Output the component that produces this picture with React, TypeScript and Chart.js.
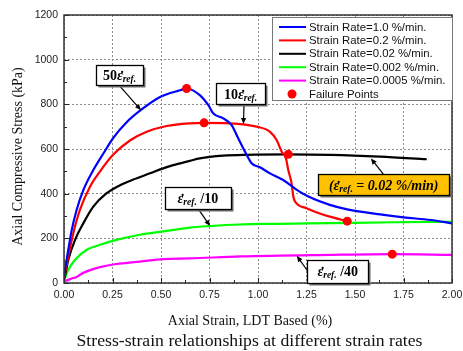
import React, { useEffect, useRef } from "react";
import { Chart, registerables } from "chart.js";

Chart.register(...registerables);

// ---------------- DATA ----------------
const seriesLabels = [
  "Strain Rate=1.0 %/min.",
  "Strain Rate=0.2 %/min.",
  "Strain Rate=0.02 %/min.",
  "Strain Rate=0.002 %/min.",
  "Strain Rate=0.0005 %/min.",
];
const failureLabel = "Failure Points";

// Strain Rate = 1.0 %/min
const strainR1 = [0, 0.005, 0.022, 0.04, 0.065, 0.1, 0.151, 0.203, 0.254, 0.323, 0.4, 0.495, 0.598, 0.632, 0.7, 0.744, 0.77, 0.821, 0.864, 0.898, 0.933, 0.967, 1.01, 1.062, 1.13, 1.2, 1.26, 1.37, 1.46, 1.63, 1.75, 1.89, 2.0];
const stressR1 = [30, 59, 149, 238, 327, 417, 506, 580, 650, 720, 777, 833, 863, 871, 841, 796, 759, 737, 707, 648, 588, 536, 518, 491, 461, 417, 387, 350, 330, 307, 294, 282, 267];

// Strain Rate = 0.2 %/min
const strainR2 = [0, 0.005, 0.022, 0.048, 0.082, 0.134, 0.186, 0.254, 0.34, 0.426, 0.529, 0.649, 0.722, 0.856, 0.993, 1.062, 1.096, 1.122, 1.144, 1.156, 1.173, 1.182, 1.191, 1.25, 1.3, 1.37, 1.46];
const stressR2 = [20, 45, 119, 223, 327, 431, 500, 575, 638, 677, 703, 715, 717, 715, 700, 677, 640, 588, 558, 506, 447, 387, 365, 335, 317, 297, 277];

// Strain Rate = 0.02 %/min
const strainR3 = [0, 0.005, 0.022, 0.057, 0.1, 0.151, 0.22, 0.289, 0.357, 0.443, 0.5, 0.563, 0.649, 0.7, 0.821, 0.941, 1.156, 1.371, 1.629, 1.87];
const stressR3 = [15, 30, 104, 193, 268, 342, 402, 438, 463, 491, 510, 528, 547, 558, 570, 574, 576, 574, 566, 554];

// Strain Rate = 0.002 %/min
const strainR4 = [0, 0.005, 0.022, 0.057, 0.117, 0.186, 0.27, 0.392, 0.512, 0.649, 0.753, 0.9, 1.1, 1.371, 1.7, 2.0];
const stressR4 = [5, 22, 59, 104, 149, 171, 193, 216, 231, 248, 255, 262, 265, 268, 272, 274];

// Strain Rate = 0.0005 %/min
const strainR5 = [0, 0.005, 0.048, 0.065, 0.082, 0.117, 0.186, 0.27, 0.392, 0.512, 0.649, 0.907, 1.371, 1.692, 2.0];
const stressR5 = [3, 7, 22, 27, 37, 52, 71, 85, 96, 107, 110, 119, 126, 129, 126];

// Failure points
const failStrain = [0.632, 0.722, 1.156, 1.46, 1.692];
const failStress = [871, 717, 576, 277, 129];

// Axis ticks
const xTickMin = 0, xTickMax = 2.0, xTickStep = 0.25, xMinorStep = 0.125;
const yTickMin = 0, yTickMax = 1200, yTickStep = 200, yMinorStep = 100;

const xTitle = "Axial Strain, LDT Based (%)";
const yTitle = "Axial Compressive Stress (kPa)";
const caption = "Stress-strain relationships at different strain rates";

const seriesColors = ["#0000FF", "#FF0000", "#000000", "#00FF00", "#FF00FF"];

// ---------------- STYLE ----------------
const SERIF = "'Liberation Serif', 'Times New Roman', serif";
const SANS = "'Liberation Sans', Arial, sans-serif";
const fBig = `bold 14px ${SERIF}`;
const fEps = `bold italic 14px ${SERIF}`;
const fSub = `bold italic 9.5px ${SERIF}`;

// "~e" marks an epsilon with a dot above (strain rate)
const EPS = "~e";

type Part = [string, string, number?];
type Annot = { parts: Part[]; center: [number, number]; w: number; h: number; from: [number, number]; to: [number, number]; fill: string };

const annotations: Annot[] = [
  { parts: [["50", fBig], [EPS, fEps], ["ref.", fSub, 2]], center: [0.286, 930], w: 47, h: 20, from: [0.289, 880], to: [0.397, 774], fill: "#FFFFFF" },
  { parts: [["10", fBig], [EPS, fEps], ["ref.", fSub, 2]], center: [0.91, 847], w: 49, h: 21, from: [0.928, 801], to: [0.925, 712], fill: "#FFFFFF" },
  { parts: [[EPS, fEps], ["ref.", fSub, 2], [" /10", fBig]], center: [0.69, 380], w: 66, h: 22, from: [0.692, 332], to: [0.753, 255], fill: "#FFFFFF" },
  { parts: [["(", fEps], [EPS, fEps], ["ref.", fSub, 2], [" = 0.02 %/min)", fEps]], center: [1.648, 441], w: 131, h: 21, from: [1.646, 488], to: [1.582, 558], fill: "#FFC000" },
  { parts: [[EPS, fEps], ["ref.", fSub, 2], [" /40", fBig]], center: [1.411, 53], w: 61, h: 23, from: [1.254, 56], to: [1.2, 122], fill: "#FFFFFF" },
];

const pts = (xs: number[], ys: number[]) => xs.map((x, i) => ({ x, y: ys[i] }));

function partText(p: Part) {
  return p[0] === EPS ? "\u03B5" : p[0];
}

function drawParts(ctx: CanvasRenderingContext2D, parts: Part[], cx: number, baseline: number) {
  let total = 0;
  for (const p of parts) {
    ctx.font = p[1];
    total += ctx.measureText(partText(p)).width;
  }
  let x = cx - total / 2;
  ctx.textAlign = "left";
  ctx.textBaseline = "alphabetic";
  for (const p of parts) {
    ctx.font = p[1];
    const t = partText(p);
    const w = ctx.measureText(t).width;
    ctx.fillText(t, x, baseline + (p[2] || 0));
    if (p[0] === EPS) {
      ctx.textAlign = "center";
      ctx.fillText("\u02D9", x + w / 2 + 1.5, baseline + 1);
      ctx.textAlign = "left";
    }
    x += w;
  }
}

function arrow(ctx: CanvasRenderingContext2D, x1: number, y1: number, x2: number, y2: number) {
  const ang = Math.atan2(y2 - y1, x2 - x1);
  const len = 6, half = 2.6;
  ctx.beginPath();
  ctx.moveTo(x1, y1);
  ctx.lineTo(x2 - Math.cos(ang) * len * 0.8, y2 - Math.sin(ang) * len * 0.8);
  ctx.stroke();
  ctx.beginPath();
  ctx.moveTo(x2, y2);
  ctx.lineTo(x2 - Math.cos(ang) * len - Math.sin(ang) * half, y2 - Math.sin(ang) * len + Math.cos(ang) * half);
  ctx.lineTo(x2 - Math.cos(ang) * len + Math.sin(ang) * half, y2 - Math.sin(ang) * len - Math.cos(ang) * half);
  ctx.closePath();
  ctx.fill();
}

const framePlugin = {
  id: "frameTicks",
  afterDatasetsDraw(chart: any) {
    const { ctx, chartArea: a, scales } = chart;
    const x = scales.x, y = scales.y;
    ctx.save();
    ctx.strokeStyle = "#222";
    ctx.lineWidth = 1;
    for (let v = xTickMin; v <= xTickMax + 1e-9; v += xMinorStep) {
      const major = Math.abs(v / xTickStep - Math.round(v / xTickStep)) < 1e-6;
      const px = Math.round(x.getPixelForValue(v)) + 0.5;
      ctx.beginPath();
      ctx.moveTo(px, a.bottom);
      ctx.lineTo(px, a.bottom - (major ? 5 : 3));
      ctx.stroke();
    }
    for (let v = yTickMin; v <= yTickMax + 1e-9; v += yMinorStep) {
      const major = Math.abs(v / yTickStep - Math.round(v / yTickStep)) < 1e-6;
      const py = Math.round(y.getPixelForValue(v)) + 0.5;
      ctx.beginPath();
      ctx.moveTo(a.left, py);
      ctx.lineTo(a.left + (major ? 5 : 3), py);
      ctx.stroke();
    }
    ctx.strokeStyle = "#333";
    ctx.lineWidth = 1.5;
    ctx.strokeRect(a.left, a.top, a.right - a.left, a.bottom - a.top);
    ctx.restore();
  },
  afterDraw(chart: any) {
    const { ctx, chartArea: a, scales } = chart;
    const x = scales.x, y = scales.y;
    ctx.save();
    // annotations
    for (const an of annotations) {
      const cx = x.getPixelForValue(an.center[0]);
      const cy = y.getPixelForValue(an.center[1]);
      const l = Math.round(cx - an.w / 2) + 0.5, t = Math.round(cy - an.h / 2) + 0.5;
      ctx.strokeStyle = "#000";
      ctx.fillStyle = "#000";
      ctx.lineWidth = 1.2;
      arrow(ctx, x.getPixelForValue(an.from[0]), y.getPixelForValue(an.from[1]), x.getPixelForValue(an.to[0]), y.getPixelForValue(an.to[1]));
      ctx.fillStyle = "#6e6e6e";
      ctx.fillRect(l + 2, t + 2, an.w, an.h);
      ctx.fillStyle = an.fill;
      ctx.fillRect(l, t, an.w, an.h);
      ctx.lineWidth = 1.3;
      ctx.strokeStyle = "#000";
      ctx.strokeRect(l, t, an.w, an.h);
      ctx.fillStyle = "#000";
      drawParts(ctx, an.parts, cx, cy + 5);
    }
    // legend
    const lx = 272, ly = 17, lw = a.right - 272, lh = 83;
    ctx.fillStyle = "#fff";
    ctx.fillRect(lx, ly, lw, lh);
    ctx.strokeStyle = "#777";
    ctx.lineWidth = 1;
    ctx.strokeRect(lx + 0.5, ly + 0.5, lw, lh);
    const dsets = chart.data.datasets;
    ctx.font = `11.4px ${SANS}`;
    ctx.textAlign = "left";
    ctx.textBaseline = "middle";
    dsets.forEach((ds: any, i: number) => {
      const ry = ly + 10 + i * 13.4;
      if (ds.showLine === false) {
        ctx.fillStyle = ds.backgroundColor;
        ctx.beginPath();
        ctx.arc(292, ry, 4.5, 0, Math.PI * 2);
        ctx.fill();
      } else {
        ctx.strokeStyle = ds.borderColor;
        ctx.lineWidth = 2;
        ctx.beginPath();
        ctx.moveTo(279, ry);
        ctx.lineTo(306, ry);
        ctx.stroke();
      }
      ctx.fillStyle = "#111";
      ctx.fillText(ds.label, 309, ry + 0.5);
    });
    // axis titles & caption
    ctx.fillStyle = "#111";
    ctx.textAlign = "center";
    ctx.textBaseline = "alphabetic";
    ctx.font = `14px ${SERIF}`;
    ctx.fillText(xTitle, 250, 325);
    ctx.font = `17.7px ${SERIF}`;
    ctx.fillText(caption, 249.5, 346);
    ctx.save();
    ctx.translate(18, 156.5);
    ctx.rotate(-Math.PI / 2);
    ctx.font = `14px ${SERIF}`;
    ctx.textBaseline = "middle";
    ctx.fillText(yTitle, 0, 0);
    ctx.restore();
    ctx.restore();
  },
};

export default function App() {
  const ref = useRef<HTMLCanvasElement>(null);
  useEffect(() => {
    const canvas = ref.current!;
    const lineDs = (i: number, xs: number[], ys: number[]) => ({
      label: seriesLabels[i],
      data: pts(xs, ys),
      showLine: true,
      borderColor: seriesColors[i],
      backgroundColor: seriesColors[i],
      borderWidth: 2.2,
      pointRadius: 0,
      cubicInterpolationMode: "monotone" as const,
    });
    const chart = new Chart(canvas, {
      type: "scatter",
      data: {
        datasets: [
          lineDs(0, strainR1, stressR1),
          lineDs(1, strainR2, stressR2),
          lineDs(2, strainR3, stressR3),
          lineDs(3, strainR4, stressR4),
          lineDs(4, strainR5, stressR5),
          {
            label: failureLabel,
            data: pts(failStrain, failStress),
            showLine: false,
            pointRadius: 4.5,
            backgroundColor: "#FF0000",
            borderColor: "#FF0000",
            borderWidth: 0,
            order: -1,
          } as any,
        ],
      },
      options: {
        responsive: false,
        animation: false,
        layout: { padding: { top: 15, right: 11, bottom: 0, left: 0 } },
        plugins: { legend: { display: false }, tooltip: { enabled: false } },
        scales: {
          x: {
            type: "linear",
            min: xTickMin,
            max: xTickMax,
            afterFit: (s: any) => { s.height = 68; s.paddingLeft = 0; s.paddingRight = 0; },
            ticks: {
              stepSize: xTickStep,
              padding: 6,
              color: "#222",
              font: { family: SANS, size: 10.5 },
              callback: (v: any) => Number(v).toFixed(2),
              maxRotation: 0,
            },
            grid: { color: "#8c8c8c", lineWidth: 1, drawTicks: false },
            border: { display: false, dash: [2, 2] },
          },
          y: {
            type: "linear",
            min: yTickMin,
            max: yTickMax,
            afterFit: (s: any) => { s.width = 64; s.paddingTop = 0; s.paddingBottom = 0; },
            ticks: {
              stepSize: yTickStep,
              padding: 6,
              color: "#222",
              font: { family: SANS, size: 10.5 },
              callback: (v: any) => String(v),
            },
            grid: { color: "#8c8c8c", lineWidth: 1, drawTicks: false },
            border: { display: false, dash: [2, 2] },
          },
        },
      },
      plugins: [framePlugin],
    });
    return () => chart.destroy();
  }, []);
  return (
    <div style={{ position: "fixed", left: 0, top: 0, width: 463, height: 351, background: "#fff" }}>
      <canvas ref={ref} width={463} height={351} style={{ display: "block", width: 463, height: 351 }} />
    </div>
  );
}
